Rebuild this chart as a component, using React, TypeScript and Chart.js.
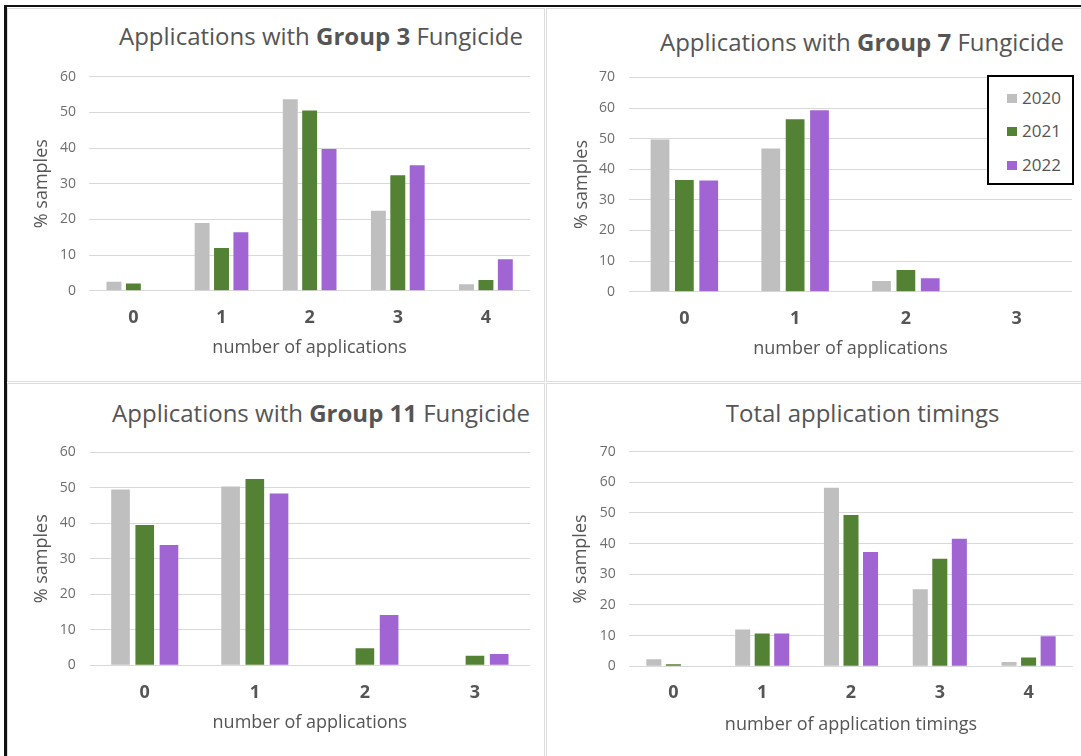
import React, { useEffect, useRef } from "react";
import { Chart, registerables } from "chart.js";

Chart.register(...registerables);

// ---- data ----
const years = ["2020", "2021", "2022"];

const group3Labels = ["0", "1", "2", "3", "4"];
const group3Y2020 = [2.5, 19.0, 53.7, 22.4, 1.8];
const group3Y2021 = [2.0, 12.0, 50.5, 32.4, 3.0];
const group3Y2022 = [0, 16.4, 39.7, 35.2, 8.8];

const group7Labels = ["0", "1", "2", "3"];
const group7Y2020 = [49.7, 46.8, 3.5, 0];
const group7Y2021 = [36.5, 56.3, 7.1, 0];
const group7Y2022 = [36.3, 59.3, 4.4, 0];

const group11Labels = ["0", "1", "2", "3"];
const group11Y2020 = [49.5, 50.4, 0, 0];
const group11Y2021 = [39.5, 52.5, 4.8, 2.7];
const group11Y2022 = [33.9, 48.4, 14.2, 3.2];

const timingLabels = ["0", "1", "2", "3", "4"];
const timingY2020 = [2.3, 12.0, 58.2, 25.1, 1.4];
const timingY2021 = [0.7, 10.7, 49.3, 35.1, 2.9];
const timingY2022 = [0, 10.7, 37.3, 41.6, 9.8];

const yMaxSixty = 60;
const yMaxSeventy = 70;
const yStep = 10;

// ---- styling ----
const FONT = "'Open Sans', 'Noto Sans', sans-serif";
const yearColors = ["#BFBFBF", "#548235", "#A064D3"];
const TEXT = "#555555";
const TICK = "#6e6e6e";
const GRID = "#D9D9D9";
const PANEL_BORDER = "#DCDCDC";

const TICK_SIZE = 14;
const CAT_SIZE = 18;
const AXIS_TITLE_SIZE = 18;
const LH = 1.2;

type PanelLayout = {
  canvas: { x: number; y: number; w: number; h: number };
  area: { left: number; top: number; right: number; bottom: number };
  tickRight: number;
  catY: number;
  xTitleY: number;
  yTitleX: number;
};

const layoutTopLeft: PanelLayout = {
  canvas: { x: 8, y: 55, w: 536, h: 320 },
  area: { left: 89.3, top: 73.3, right: 530, bottom: 290.7 },
  tickRight: 76,
  catY: 318,
  xTitleY: 348,
  yTitleX: 41.7,
};
const layoutTopRight: PanelLayout = {
  canvas: { x: 547, y: 55, w: 534, h: 320 },
  area: { left: 629, top: 77.3, right: 1072, bottom: 291.7 },
  tickRight: 615,
  catY: 319,
  xTitleY: 349,
  yTitleX: 581.5,
};
const layoutBottomLeft: PanelLayout = {
  canvas: { x: 8, y: 430, w: 536, h: 320 },
  area: { left: 89.7, top: 450.7, right: 530, bottom: 665.3 },
  tickRight: 75.8,
  catY: 692.7,
  xTitleY: 723.3,
  yTitleX: 41.7,
};
const layoutBottomRight: PanelLayout = {
  canvas: { x: 547, y: 430, w: 534, h: 320 },
  area: { left: 629, top: 451, right: 1073, bottom: 666.3 },
  tickRight: 615.8,
  catY: 693.3,
  xTitleY: 725,
  yTitleX: 581,
};

function BarPanel(props: {
  layout: PanelLayout;
  labels: string[];
  series: number[][];
  yMax: number;
  xTitle: string;
}) {
  const ref = useRef<HTMLCanvasElement | null>(null);
  const { layout, labels, series, yMax, xTitle } = props;

  useEffect(() => {
    const L = layout;
    const c = L.canvas;
    const yAxisWidth = L.area.left - c.x;
    const xAxisHeight = c.y + c.h - L.area.bottom;

    const chart = new Chart(ref.current as HTMLCanvasElement, {
      type: "bar",
      data: {
        labels,
        datasets: series.map((d, i) => ({
          label: years[i],
          data: d,
          backgroundColor: yearColors[i],
          borderWidth: 0,
          categoryPercentage: 0.66,
          barPercentage: 0.77,
        })),
      },
      options: {
        responsive: false,
        animation: false,
        devicePixelRatio: 1,
        layout: {
          padding: {
            left: 0,
            top: L.area.top - c.y,
            right: c.x + c.w - L.area.right,
            bottom: 0,
          },
        },
        plugins: {
          legend: { display: false },
          tooltip: { enabled: false },
          title: { display: false },
        },
        scales: {
          x: {
            grid: { display: false, drawTicks: false },
            border: { display: false },
            ticks: {
              font: { family: FONT, size: CAT_SIZE, weight: "bold" },
              color: TEXT,
              padding: L.catY - L.area.bottom - (CAT_SIZE * LH) / 2,
              maxRotation: 0,
            },
            title: {
              display: true,
              text: xTitle,
              font: { family: FONT, size: AXIS_TITLE_SIZE },
              color: TEXT,
              padding: {
                top: 0,
                bottom: c.y + c.h - L.xTitleY - (AXIS_TITLE_SIZE * LH) / 2,
              },
            },
            afterFit: (s: any) => {
              s.height = xAxisHeight;
            },
          },
          y: {
            min: 0,
            max: yMax,
            grid: { color: GRID, lineWidth: 1, drawTicks: false },
            border: { display: false },
            ticks: {
              stepSize: yStep,
              font: { family: FONT, size: TICK_SIZE },
              color: TICK,
              padding: L.area.left - L.tickRight,
            },
            title: {
              display: true,
              text: "% samples",
              font: { family: FONT, size: AXIS_TITLE_SIZE },
              color: TEXT,
              padding: {
                top: L.yTitleX - c.x - (AXIS_TITLE_SIZE * LH) / 2,
                bottom: 0,
              },
            },
            afterFit: (s: any) => {
              s.width = yAxisWidth;
            },
          },
        },
      } as any,
    });
    return () => chart.destroy();
  }, []);

  return (
    <canvas
      ref={ref}
      width={layout.canvas.w}
      height={layout.canvas.h}
      style={{
        position: "absolute",
        left: layout.canvas.x,
        top: layout.canvas.y,
        width: layout.canvas.w,
        height: layout.canvas.h,
        display: "block",
      }}
    />
  );
}

function PanelTitle(props: { cx: number; cy: number; children: React.ReactNode }) {
  const size = 24;
  const lineH = 32;
  // baseline position inside the line box, then up by half the cap height
  const baseline = (lineH - 1.362 * size) / 2 + 1.069 * size;
  const capMid = baseline - 0.357 * size;
  return (
    <div
      style={{
        position: "absolute",
        left: props.cx - 300,
        top: props.cy - capMid,
        width: 600,
        height: lineH,
        lineHeight: lineH + "px",
        textAlign: "center",
        fontFamily: FONT,
        fontSize: size,
        color: TEXT,
        whiteSpace: "nowrap",
      }}
    >
      {props.children}
    </div>
  );
}

function Legend() {
  const rows = [98.3, 131.7, 165];
  return (
    <>
      <div
        style={{
          position: "absolute",
          left: 987,
          top: 75,
          width: 87,
          height: 110,
          border: "2px solid #000",
          boxSizing: "border-box",
          background: "#fff",
        }}
      />
      {years.map((y, i) => (
        <React.Fragment key={y}>
          <div
            style={{
              position: "absolute",
              left: 1007,
              top: rows[i] - 4.5,
              width: 10,
              height: 9,
              background: yearColors[i],
            }}
          />
          <div
            style={{
              position: "absolute",
              left: 1022,
              top: rows[i] - 10.5,
              height: 20,
              lineHeight: "20px",
              fontFamily: FONT,
              fontSize: 17,
              color: TEXT,
              whiteSpace: "nowrap",
            }}
          >
            {y}
          </div>
        </React.Fragment>
      ))}
    </>
  );
}

function PanelBox(props: { x: number; y: number; w: number; h: number }) {
  return (
    <div
      style={{
        position: "absolute",
        left: props.x,
        top: props.y,
        width: props.w,
        height: props.h,
        border: "1px solid " + PANEL_BORDER,
        boxSizing: "border-box",
      }}
    />
  );
}

export default function App() {
  return (
    <div
      style={{
        position: "absolute",
        left: 0,
        top: 0,
        width: 1081,
        height: 756,
        background: "#fff",
        overflow: "hidden",
      }}
    >
      <PanelBox x={7} y={8} w={538} h={374} />
      <PanelBox x={546} y={8} w={545} h={374} />
      <PanelBox x={7} y={383} w={538} h={385} />
      <PanelBox x={546} y={383} w={545} h={385} />

      {/* outer frame: heavy rule along the top and left */}
      <div
        style={{
          position: "absolute",
          left: 4,
          top: 5,
          width: 1090,
          height: 760,
          borderLeft: "3px solid #111",
          borderTop: "2px solid #111",
          boxSizing: "border-box",
        }}
      />

      <PanelTitle cx={321} cy={36.7}>
        Applications with <b>Group 3</b> Fungicide
      </PanelTitle>
      <PanelTitle cx={862} cy={42.5}>
        Applications with <b>Group 7</b> Fungicide
      </PanelTitle>
      <PanelTitle cx={321} cy={413.3}>
        Applications with <b>Group 11</b> Fungicide
      </PanelTitle>
      <PanelTitle cx={862.6} cy={413.8}>
        Total application timings
      </PanelTitle>

      <BarPanel
        layout={layoutTopLeft}
        labels={group3Labels}
        series={[group3Y2020, group3Y2021, group3Y2022]}
        yMax={yMaxSixty}
        xTitle="number of applications"
      />
      <BarPanel
        layout={layoutTopRight}
        labels={group7Labels}
        series={[group7Y2020, group7Y2021, group7Y2022]}
        yMax={yMaxSeventy}
        xTitle="number of applications"
      />
      <BarPanel
        layout={layoutBottomLeft}
        labels={group11Labels}
        series={[group11Y2020, group11Y2021, group11Y2022]}
        yMax={yMaxSixty}
        xTitle="number of applications"
      />
      <BarPanel
        layout={layoutBottomRight}
        labels={timingLabels}
        series={[timingY2020, timingY2021, timingY2022]}
        yMax={yMaxSeventy}
        xTitle="number of application timings"
      />

      <Legend />
    </div>
  );
}
